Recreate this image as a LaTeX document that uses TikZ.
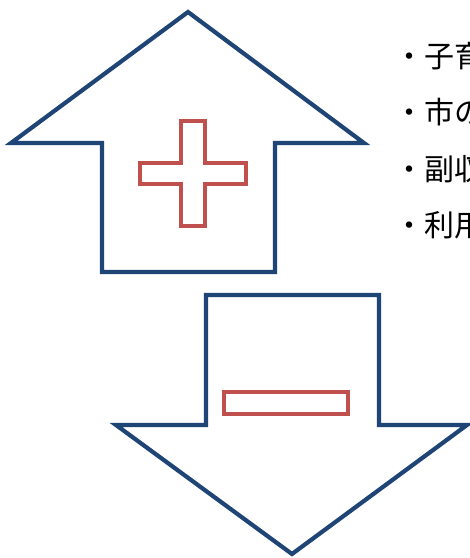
\documentclass[tikz,border=0pt]{standalone}
\usepackage{fontspec}
\newfontfamily\jp{Noto Sans CJK JP}
\definecolor{arrowblue}{HTML}{1F4476}
\definecolor{signred}{HTML}{C0504D}
\tikzset{
  arrowshape/.style={draw=arrowblue, line width=4.2pt, line join=miter, fill=white},
  signshape/.style={draw=signred, line width=4.5pt, line join=miter},
  bullettext/.style={anchor=base west, inner sep=0pt, font=\jp\fontsize{30}{30}\selectfont, text=black}
}
\begin{document}
\begin{tikzpicture}[x=1pt, y=-1pt]
\useasboundingbox (0,0) rectangle (470,558);
\clip (0,0) rectangle (470,558);
% up arrow
\draw[arrowshape] (188,12) -- (364,143) -- (275,143) -- (275,272) -- (102,272) -- (102,143) -- (11,143) -- cycle;
% plus sign
\draw[signshape] (181,121) -- (205,121) -- (205,163) -- (246,163) -- (246,184) -- (205,184) -- (205,226) -- (181,226) -- (181,184) -- (140,184) -- (140,163) -- (181,163) -- cycle;
% down arrow
\draw[arrowshape] (206,295) -- (379,295) -- (379,425) -- (467,425) -- (292,554) -- (116,425) -- (206,425) -- cycle;
% minus sign
\draw[signshape] (224,392) rectangle (348,414);
% text
\node[bullettext] (t1) at (394,67) {・子育};
\node[bullettext] (t2) at (394,123) {・市の};
\node[bullettext] (t3) at (394,180) {・副収};
\node[bullettext] (t4) at (394,236) {・利用};
\end{tikzpicture}
\end{document}
